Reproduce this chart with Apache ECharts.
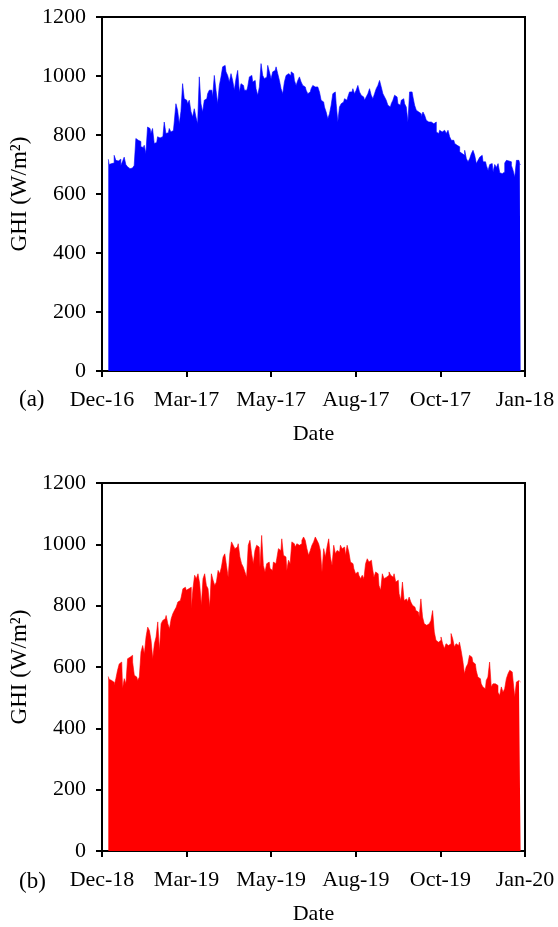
<!DOCTYPE html>
<html>
<head>
<meta charset="utf-8">
<script src="https://cdn.jsdelivr.net/npm/echarts@6/dist/echarts.min.js"></script>
<style>
html,body{margin:0;padding:0;background:#fff;}
#chart{width:558px;height:927px;}
</style>
</head>
<body>
<div id="chart"></div>
<script>
// ---- tick labels ----
const xTickLabelsA = ['Dec-16', 'Mar-17', 'May-17', 'Aug-17', 'Oct-17', 'Jan-18'];
const xTickLabelsB = ['Dec-18', 'Mar-19', 'May-19', 'Aug-19', 'Oct-19', 'Jan-20'];
const yTickValues = [0, 200, 400, 600, 800, 1000, 1200];
const panelLabels = ['(a)', '(b)'];
const axisTitleX = 'Date';
const axisTitleY = 'GHI (W/m\u00B2)';

const ghi2017 = [
718,700,703,705,731,714,712,718,697,710,725,700,692,686,688,686,697,788,782,778,
760,758,765,737,827,822,805,822,771,775,794,790,794,782,844,805,808,822,810,815,
844,906,884,838,880,974,923,918,906,918,880,861,889,861,838,997,906,878,918,923,
940,952,952,929,1002,952,906,968,997,1031,1036,1014,1002,980,1008,985,952,991,1019,946,
974,968,952,952,963,997,1002,980,985,957,935,963,1042,1002,991,997,1036,1014,991,1014,
1019,1031,1008,985,957,940,980,1002,1008,1002,1014,1008,
985,968,985,997,980,968,963,952,940,946,957,968,963,963,957,946,918,912,895,878,
855,872,901,940,946,906,844,895,906,912,923,918,929,946,946,957,940,952,968,946,
935,929,918,929,940,957,935,923,940,957,968,985,963,940,929,918,901,895,906,918,
935,929,906,901,918,923,906,895,844,946,946,929,901,884,878,872,861,878,867,850,
844,844,844,838,844,810,805,816,810,816,822,805,816,794,782,782,771,765,760,743,
737,731,748,720,709,720,737,748,731,703,714,725,731,709,709,697,680,700,703,675,
700,690,703,672,669,675,705,714,712,709,697,680,657,714,714,700
];
const ghi2019 = [
569,560,556,550,540,562,589,610,616,530,562,545,627,632,638,616,573,567,556,567,
649,670,643,698,730,719,687,627,676,698,747,654,741,752,757,768,741,725,757,774,
785,795,812,817,
828,855,860,850,855,860,790,855,899,888,904,872,801,888,904,866,855,795,904,883,
866,877,915,904,926,959,969,931,893,969,1008,997,986,991,1002,959,937,926,910,893,
997,1013,969,937,980,997,991,926,1029,931,910,937,942,921,915,942,937,953,986,980,
1018,964,959,915,948,937,1008,1002,
991,1002,997,1002,1013,1024,1013,986,964,980,997,1008,1024,1013,1002,980,910,986,959,991,
1018,959,931,997,969,980,975,997,986,991,964,997,975,942,937,921,904,910,899,888,
899,888,937,953,942,948,926,893,910,904,866,850,904,888,893,899,910,899,893,904,
877,883,839,817,877,817,822,812,828,812,801,795,784,779,763,822,763,741,736,741,
736,752,784,714,687,681,687,698,676,660,676,670,676,709,692,665,676,670,681,654,
621,578,600,610,638,632,616,610,589,567,562,545,535,529,556,567,616,535,545,
545,540,518,507,535,518,529,562,578,589,584,556,502,551,556,551
];

// ---- axis span in days (5 major units of 75 days); data covers one calendar year ----
const axisMaxDay = 375;
const axisStepDay = 75;
const firstDataDay = 5.6;
const lastDataDay = 371.1;

function toPairs(values) {
  const n = values.length;
  const step = (lastDataDay - firstDataDay) / (n - 1);
  return values.map((v, i) => [firstDataDay + i * step, v]);
}

const FONT = '"Liberation Serif", "Times New Roman", serif';
const txt = { fontFamily: FONT, fontSize: 22, color: '#000' };

function xAxisFor(gridIndex, labels) {
  return {
    gridIndex: gridIndex,
    type: 'value',
    min: 0,
    max: axisMaxDay,
    interval: axisStepDay,
    name: axisTitleX,
    nameLocation: 'middle',
    nameGap: 52,
    nameTextStyle: txt,
    axisLine: { show: true, onZero: false, lineStyle: { color: '#000', width: 2 } },
    axisTick: { show: true, inside: false, length: 6, lineStyle: { color: '#000', width: 2 } },
    axisLabel: Object.assign({
      margin: 18,
      formatter: function (v) { return labels[Math.round(v / axisStepDay)] || ''; }
    }, txt),
    splitLine: { show: false }
  };
}
function yAxisFor(gridIndex) {
  return {
    gridIndex: gridIndex,
    type: 'value',
    min: yTickValues[0],
    max: yTickValues[yTickValues.length - 1],
    interval: yTickValues[1] - yTickValues[0],
    name: axisTitleY,
    nameLocation: 'middle',
    nameGap: 65,
    nameRotate: 90,
    nameTextStyle: Object.assign({}, txt, { fontSize: 23 }),
    axisLine: { show: true, lineStyle: { color: '#000', width: 2 } },
    axisTick: { show: true, inside: false, length: 6, lineStyle: { color: '#000', width: 2 } },
    axisLabel: Object.assign({ margin: 16, formatter: function (v) { return String(v); } }, txt),
    splitLine: { show: false }
  };
}

function areaSeries(axisIndex, values, color) {
  return {
    type: 'line',
    xAxisIndex: axisIndex, yAxisIndex: axisIndex,
    data: toPairs(values),
    step: 'middle',
    symbol: 'none',
    lineStyle: { color: color, width: 1, opacity: 0.6 },
    areaStyle: { color: color, opacity: 1, origin: 'start' },
    emphasis: { disabled: true }
  };
}

const chart = echarts.init(document.getElementById('chart'), null, { renderer: 'canvas' });
chart.setOption({
  backgroundColor: '#ffffff',
  animation: false,
  grid: [
    { left: 102, right: 33, top: 17, height: 354, show: true, borderColor: '#000', borderWidth: 2, backgroundColor: 'transparent' },
    { left: 102, right: 33, top: 483, height: 368, show: true, borderColor: '#000', borderWidth: 2, backgroundColor: 'transparent' }
  ],
  xAxis: [xAxisFor(0, xTickLabelsA), xAxisFor(1, xTickLabelsB)],
  yAxis: [yAxisFor(0), yAxisFor(1)],
  graphic: [
    { type: 'text', left: 19, top: 388, style: { text: panelLabels[0], font: '23px ' + FONT, fill: '#000' } },
    { type: 'text', left: 19, top: 870, style: { text: panelLabels[1], font: '23px ' + FONT, fill: '#000' } }
  ],
  series: [
    areaSeries(0, ghi2017, '#0000ff'),
    areaSeries(1, ghi2019, '#ff0000')
  ]
});
</script>
</body>
</html>
